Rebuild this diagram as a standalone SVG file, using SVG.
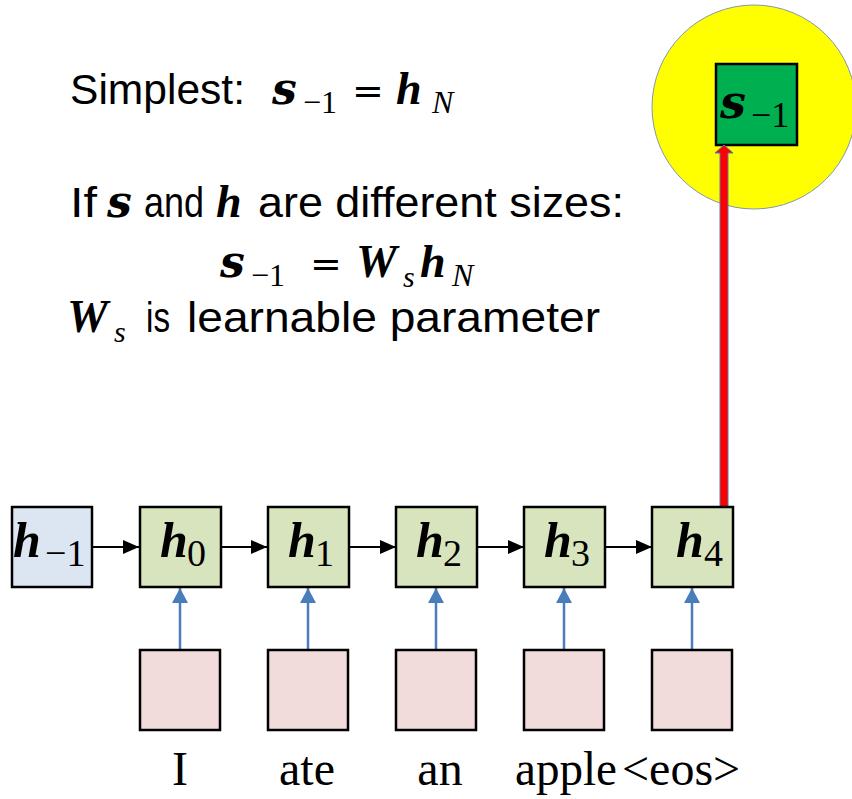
<svg xmlns="http://www.w3.org/2000/svg" width="852" height="799" viewBox="0 0 852 799">
<defs>
<style>
.body{font-family:"Liberation Sans",Arial,sans-serif;font-size:43px;fill:#000}
.sv{font-family:"DejaVu Serif",serif;font-weight:bold;font-style:italic;fill:#000}
.hv{font-family:"Liberation Serif","Times New Roman",serif;font-weight:bold;font-style:italic;fill:#000}
.rs{font-family:"Liberation Serif","Times New Roman",serif;fill:#000}
.is{font-family:"Liberation Serif","Times New Roman",serif;font-style:italic;fill:#000}
.eq{font-family:"DejaVu Serif",serif;fill:#000}
.word{font-family:"Liberation Serif","Times New Roman",serif;font-size:48px;fill:#000}
.hbox{fill:#d7e4bd;stroke:#000;stroke-width:2.5}
.hprev{fill:#dce6f2;stroke:#000;stroke-width:2.5}
.inbox{fill:#f2dcdb;stroke:#000;stroke-width:2.5}
.blk{stroke:#000;stroke-width:1.8;fill:none}
.blu{stroke:#4a7ebb;stroke-width:2.5;fill:none}
</style>
<marker id="ab" markerUnits="userSpaceOnUse" markerWidth="16" markerHeight="14" refX="16" refY="7" orient="auto">
<path d="M0,0 L16,7 L0,14 Z" fill="#000"/>
</marker>
<marker id="au" markerUnits="userSpaceOnUse" markerWidth="16" markerHeight="16" refX="15" refY="8" orient="auto">
<path d="M0,0 L15,8 L0,16 Z" fill="#4a7ebb"/>
</marker>
</defs>
<rect width="852" height="799" fill="#fff"/>

<g id="notes">
<text class="body" x="70" y="104" textLength="175" lengthAdjust="spacingAndGlyphs">Simplest:</text>
<text class="sv" x="272" y="104" font-size="44">s</text>
<text class="rs" x="303" y="113" font-size="32">−1</text>
<text class="eq" x="352" y="104" font-size="38">=</text>
<text class="hv" x="396" y="104" font-size="46">h</text>
<text class="is" x="432" y="113" font-size="32">N</text>

<text class="body" x="70" y="217" textLength="27" lengthAdjust="spacingAndGlyphs">If</text>
<text class="sv" x="107" y="217" font-size="44">s</text>
<text class="body" x="144" y="217" textLength="60" lengthAdjust="spacingAndGlyphs">and</text>
<text class="hv" x="216" y="217" font-size="46">h</text>
<text class="body" x="258" y="217" textLength="366" lengthAdjust="spacingAndGlyphs">are different sizes:</text>

<text class="sv" x="220" y="277" font-size="44">s</text>
<text class="rs" x="251" y="286" font-size="32">−1</text>
<text class="eq" x="310" y="277" font-size="38">=</text>
<text class="hv" x="356" y="277" font-size="46">W</text>
<text class="is" x="403" y="287" font-size="30">s</text>
<text class="hv" x="420" y="277" font-size="46">h</text>
<text class="is" x="452" y="286" font-size="32">N</text>

<text class="hv" x="67" y="332" font-size="46">W</text>
<text class="is" x="114" y="342" font-size="30">s</text>
<text class="body" x="146" y="332" textLength="24" lengthAdjust="spacingAndGlyphs">is</text>
<text class="body" x="187" y="332" textLength="413" lengthAdjust="spacingAndGlyphs">learnable parameter</text>
</g>

<g id="target">
<circle cx="754" cy="107" r="102" fill="#ffff00" stroke="#8497b0" stroke-width="1"/>
<rect x="716" y="64" width="81" height="81" fill="#00b050" stroke="#000" stroke-width="2.5"/>
<text class="sv" x="720" y="118" font-size="46">s</text>
<text class="rs" x="751" y="127" font-size="36">−1</text>
</g>

<g id="connectors">
<line class="blk" x1="92" y1="547" x2="139" y2="547" marker-end="url(#ab)"/>
<line class="blk" x1="221" y1="547" x2="267" y2="547" marker-end="url(#ab)"/>
<line class="blk" x1="349" y1="547" x2="396" y2="547" marker-end="url(#ab)"/>
<line class="blk" x1="477" y1="547" x2="524" y2="547" marker-end="url(#ab)"/>
<line class="blk" x1="605" y1="547" x2="652" y2="547" marker-end="url(#ab)"/>
<line class="blu" x1="180" y1="650" x2="180" y2="588" marker-end="url(#au)"/>
<line class="blu" x1="308" y1="650" x2="308" y2="588" marker-end="url(#au)"/>
<line class="blu" x1="436" y1="650" x2="436" y2="588" marker-end="url(#au)"/>
<line class="blu" x1="564" y1="650" x2="564" y2="588" marker-end="url(#au)"/>
<line class="blu" x1="692" y1="650" x2="692" y2="588" marker-end="url(#au)"/>
<polygon points="720,507 728,507 728,153 733,153 724,145 715,153 720,153" fill="#ff0000" stroke="#4a7ebb" stroke-width="1"/>
</g>

<g id="h_m1">
<rect class="hprev" x="12" y="507" width="80" height="80"/>
<text class="hv" x="13" y="557" font-size="50">h</text>
<text class="rs" x="45" y="566" font-size="38">−1</text>
</g>
<g id="h0">
<rect class="hbox" x="140" y="507" width="81" height="80"/>
<text class="hv" x="160" y="557" font-size="50">h</text>
<text class="rs" x="187" y="566" font-size="38">0</text>
</g>
<g id="h1">
<rect class="hbox" x="268" y="507" width="81" height="80"/>
<text class="hv" x="288" y="557" font-size="50">h</text>
<text class="rs" x="315" y="566" font-size="38">1</text>
</g>
<g id="h2">
<rect class="hbox" x="396" y="507" width="81" height="80"/>
<text class="hv" x="416" y="557" font-size="50">h</text>
<text class="rs" x="443" y="566" font-size="38">2</text>
</g>
<g id="h3">
<rect class="hbox" x="524" y="507" width="81" height="80"/>
<text class="hv" x="544" y="557" font-size="50">h</text>
<text class="rs" x="571" y="566" font-size="38">3</text>
</g>
<g id="h4">
<rect class="hbox" x="652" y="507" width="81" height="80"/>
<text class="hv" x="676" y="557" font-size="50">h</text>
<text class="rs" x="704" y="566" font-size="38">4</text>
</g>

<g id="x0"><rect class="inbox" x="140" y="650" width="80" height="80"/><text class="word" x="180" y="785" text-anchor="middle">I</text></g>
<g id="x1"><rect class="inbox" x="268" y="650" width="80" height="80"/><text class="word" x="307" y="785" text-anchor="middle">ate</text></g>
<g id="x2"><rect class="inbox" x="396" y="650" width="80" height="80"/><text class="word" x="440" y="785" text-anchor="middle">an</text></g>
<g id="x3"><rect class="inbox" x="524" y="650" width="80" height="80"/><text class="word" x="515" y="785" textLength="102" lengthAdjust="spacingAndGlyphs">apple</text></g>
<g id="x4"><rect class="inbox" x="652" y="650" width="80" height="80"/><text class="word" x="622" y="785">&lt;eos&gt;</text></g>
</svg>
